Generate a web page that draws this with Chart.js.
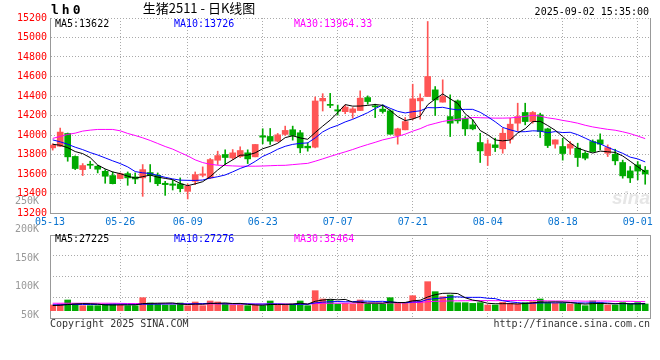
<!DOCTYPE html>
<html>
<head>
<meta charset="utf-8">
<script src="https://cdn.jsdelivr.net/npm/chart.js@4.4.0/dist/chart.umd.min.js"></script>
<style>
html, body { margin: 0; padding: 0; background: #fff; }
#wrap { position: relative; width: 660px; height: 360px; }
#wrap canvas { position: absolute; left: 0; top: 0; }
</style>
</head>
<body>
<div id="wrap">
  <canvas id="kline" width="660" height="360"></canvas>
  <canvas id="vol" width="660" height="360"></canvas>
</div>
<script>
var dates = ['05-13','05-14','05-15','05-16','05-19','05-20','05-21','05-22','05-23','05-26','05-27','05-28','05-29','05-30',
  '06-03','06-04','06-05','06-06','06-09','06-10','06-11','06-12','06-13','06-16','06-17','06-18','06-19','06-20','06-23','06-24','06-25','06-26','06-27','06-30',
  '07-01','07-02','07-03','07-04','07-07','07-08','07-09','07-10','07-11','07-14','07-15','07-16','07-17','07-18','07-21','07-22','07-23','07-24','07-25','07-28','07-29','07-30','07-31',
  '08-01','08-04','08-05','08-06','08-07','08-08','08-11','08-12','08-13','08-14','08-15','08-18','08-19','08-20','08-21','08-22','08-25','08-26','08-27','08-28','08-29',
  '09-01','09-02'];
var tickDates = ['05-13','05-26','06-09','06-23','07-07','07-21','08-04','08-18','09-01'];

var opens = [13868,13885,14016,13780,13645,13697,13680,13628,13584,13553,13604,13570,13560,13615,13587,13505,13498,13498,13422,13525,
  13587,13560,13741,13800,13765,13779,13817,13776,13992,13985,13937,14006,14054,14023,13885,13875,14349,14314,14259,14239,
  14231,14251,14384,14299,14265,14248,13995,14053,14172,14350,14395,14463,14337,14189,14350,14172,14104,13923,13789,13899,
  13858,13957,14121,14231,14138,14207,14063,13906,13882,13865,13865,13813,13933,13950,13813,13803,13718,13632,13694,13639];
var highs = [13910,14071,14020,13786,13707,13731,13690,13645,13621,13611,13621,13611,13697,13697,13611,13525,13536,13560,13498,13621,
  13673,13759,13834,13848,13851,13879,13848,13903,14064,14067,14016,14091,14091,14047,13920,14390,14424,14427,14307,14307,
  14282,14453,14401,14316,14309,14258,14070,14179,14521,14422,15164,14497,14566,14412,14360,14189,14155,14018,13950,13967,
  14070,14172,14326,14326,14241,14224,14070,13950,13967,13933,13916,13830,13950,14012,13899,13854,13742,13677,13728,13677];
var lows = [13845,13880,13731,13645,13584,13656,13611,13505,13498,13549,13484,13501,13371,13518,13481,13381,13436,13416,13344,13491,
  13570,13553,13697,13697,13748,13769,13707,13776,13910,13903,13930,13995,13947,13817,13834,13868,14246,14280,14204,14218,
  14172,14251,14316,14179,14224,14008,13906,14053,14155,14162,14395,14200,14337,13984,14121,13995,14053,13718,13687,13830,
  13813,13916,14042,14104,14121,13974,13871,13865,13742,13803,13677,13745,13824,13848,13779,13694,13557,13512,13540,13495];
var closes = [13896,14030,13776,13656,13687,13690,13649,13577,13501,13604,13560,13549,13645,13587,13501,13491,13484,13450,13474,13594,
  13601,13748,13789,13769,13817,13841,13755,13903,13978,13937,14002,14047,13995,13868,13868,14349,14376,14304,14246,14287,
  14268,14378,14343,14289,14241,14008,14063,14138,14371,14378,14600,14360,14395,14121,14145,14063,14063,13837,13909,13871,
  14018,14111,14189,14138,14231,14036,13892,13950,13810,13906,13769,13762,13830,13906,13871,13735,13581,13560,13630,13600];

var ma5 = [13905,13895,13870,13830,13809,13768,13692,13652,13621,13604,13578,13558,13572,13589,13568,13555,13542,13503,13480,13499,
  13521,13573,13641,13700,13745,13793,13794,13817,13859,13883,13915,13973,13992,13970,13956,14025,14091,14153,14229,14312,
  14296,14297,14304,14313,14304,14252,14189,14148,14164,14192,14310,14369,14421,14371,14324,14217,14157,14046,14003,13949,
  13940,13949,14020,14065,14137,14141,14097,14049,13984,13919,13865,13839,13815,13835,13828,13821,13785,13731,13675,13621];
var ma10 = [13950,13930,13905,13875,13850,13820,13795,13765,13735,13707,13673,13625,13612,13605,13586,13566,13550,13537,13535,13534,
  13538,13558,13572,13590,13622,13657,13684,13729,13780,13814,13854,13884,13904,13914,13919,13970,14032,14072,14099,14134,
  14161,14194,14229,14271,14308,14274,14243,14226,14239,14248,14281,14279,14284,14268,14258,14263,14263,14233,14187,14136,
  14078,14053,14033,14034,14043,14040,14023,14035,14025,14028,14003,13968,13932,13909,13873,13843,13812,13773,13755,13724];
var ma30 = [13965,13985,14006,14019,14040,14050,14057,14057,14057,14043,14016,13995,13971,13944,13913,13882,13855,13820,13786,13745,
  13717,13700,13690,13687,13683,13680,13680,13680,13682,13685,13688,13689,13696,13703,13709,13731,13755,13780,13804,13827,
  13851,13878,13902,13925,13950,13967,13986,14009,14039,14065,14099,14119,14139,14151,14162,14169,14180,14177,14175,14173,
  14173,14175,14182,14191,14203,14193,14176,14165,14150,14137,14121,14100,14083,14070,14058,14049,14033,14014,13989,13963];

var volumes = [22200,26100,41700,28500,19500,19500,19500,26100,26100,22200,19500,19500,50700,30000,26100,22200,22200,30000,19500,33900,
  19500,37800,33900,26100,22200,22200,19500,22200,19500,37800,22200,22200,26100,37800,19500,78000,45600,41700,26100,28500,
  26100,41700,26100,26100,26100,50700,28500,28500,58500,37800,113100,74100,54600,61200,31200,31200,28500,31200,22200,22200,
  32400,28500,26100,31200,35100,45600,31200,28500,28500,26100,26100,19500,37800,31200,22200,22200,31200,26100,31200,26100];
var volMa5 = [20000,21000,24000,26000,27600,27100,25700,22600,22100,22700,22700,22700,27600,28400,29200,29700,30200,26100,24000,25600,
  25000,28100,28900,30200,27900,28400,24800,22400,21100,24200,24200,24800,25600,29200,25600,36700,41400,44500,42200,44000,
  33600,32800,29700,29700,29200,34100,31500,32000,38500,40800,53300,62400,67600,68200,66800,50500,41300,36700,28900,27100,
  27300,27300,26300,28100,30700,33300,33800,34300,33800,32000,28100,25700,27600,28100,27400,26600,28900,26600,26600,27400];
var volMa10 = [23000,23000,24000,24000,24000,24000,24000,24000,25000,25100,24900,24200,25100,25300,25900,26200,26500,26900,26200,27400,
  27400,29200,27500,27100,26700,26700,26500,25700,25700,26100,26300,24800,24000,25200,24900,30500,33100,35000,35700,34800,
  35200,37100,37100,35900,36600,33900,32200,30800,34100,35000,43700,47000,49800,53300,53800,51900,51900,52100,48500,47000,
  38900,34300,31500,28500,28900,30300,30600,30300,30900,31300,30700,29800,31000,31000,29700,27300,27300,27100,27400,27400];
var volMa30 = [29000,29000,29000,29000,29000,29000,29000,29000,29000,28500,28000,28000,27500,27500,27000,27000,27000,27000,26500,26500,
  26500,26500,26500,26500,26000,26000,26000,26000,26000,26200,26200,26100,25500,25900,25900,27800,28700,29200,29200,29400,
  29600,30400,29500,29400,29400,30400,30600,30500,31800,32000,35100,36300,37000,38100,38400,38700,39000,39300,39400,38900,
  39300,39500,39500,39200,39800,38700,38200,37800,37800,37800,37800,37000,37400,37600,37500,36500,36600,36500,35600,35200];
var volTicks = [250000, 200000, 150000, 100000, 50000];

var FONT = '"DejaVu Sans Mono", monospace';
var UP = '#ff5555', DOWN = '#00aa00', GRID = '#aaaaaa', FRAME = '#999999';
var xMin = -0.36, xMax = 79.64;

var candleColor = closes.map(function (c, i) { return c >= opens[i] ? UP : DOWN; });
function pts(arr) { return arr.map(function (v, i) { return { x: i, y: v }; }); }
function dateTicks(scale) {
  scale.ticks = tickDates.map(function (d) {
    return { value: d === dates[0] ? xMin : dates.indexOf(d) };
  });
}
function fixWidth(w) { return function (s) { s.width = w; }; }
function fixHeight(h) { return function (s) { s.height = h; }; }
function maLine(label, data, color, axis) {
  return { type: 'line', label: label, data: pts(data), borderColor: color, borderWidth: 1,
    pointRadius: 0, tension: 0, yAxisID: axis };
}

var klineText = {
  id: 'klineText',
  beforeDatasetsDraw: function (chart) {
    var ctx = chart.ctx;
    ctx.save();
    ctx.font = 'italic bold 19px "Liberation Sans", sans-serif';
    ctx.fillStyle = '#e6e6e6';
    ctx.textAlign = 'right';
    ctx.fillText('sina', 650, 204);
    ctx.restore();
  },
  afterDraw: function (chart) {
    var ctx = chart.ctx;
    ctx.save();
    ctx.textBaseline = 'middle';
    ctx.fillStyle = '#000';
    ctx.font = 'bold 13px ' + FONT;
    ctx.letterSpacing = '3px';
    ctx.fillText('lh0', 51, 11);
    ctx.letterSpacing = '0px';
    ctx.font = '13px "Noto Sans CJK SC"';
    ctx.textAlign = 'center';
    ctx.fillText('生猪2511 - 日K线图', 199, 8);
    ctx.font = '10px ' + FONT;
    ctx.textAlign = 'right';
    ctx.fillText('2025-09-02 15:35:00', 649, 12);
    ctx.textAlign = 'left';
    ctx.fillStyle = '#000'; ctx.fillText('MA5:13622', 55, 24);
    ctx.fillStyle = '#0000ff'; ctx.fillText('MA10:13726', 174, 24);
    ctx.fillStyle = '#ff00ff'; ctx.fillText('MA30:13964.33', 294, 24);
    ctx.fillStyle = '#333';
    ctx.fillText('Copyright 2025 SINA.COM', 50, 324);
    ctx.textAlign = 'right';
    ctx.fillText('http://finance.sina.com.cn', 650, 324);
    ctx.restore();
  }
};

var volText = {
  id: 'volText',
  afterDraw: function (chart) {
    var ctx = chart.ctx;
    ctx.save();
    ctx.textBaseline = 'middle';
    ctx.font = '10px ' + FONT;
    ctx.fillStyle = '#000'; ctx.fillText('MA5:27225', 55, 239);
    ctx.fillStyle = '#0000ff'; ctx.fillText('MA10:27276', 174, 239);
    ctx.fillStyle = '#ff00ff'; ctx.fillText('MA30:35464', 294, 239);
    ctx.restore();
  }
};

var kline = new Chart(document.getElementById('kline').getContext('2d'), {
  type: 'bar',
  data: {
    datasets: [
      maLine('MA5', ma5, '#000000', 'y'),
      maLine('MA10', ma10, '#0000ff', 'y'),
      maLine('MA30', ma30, '#ff00ff', 'y'),
      { type: 'bar', label: 'body', data: opens.map(function (o, i) { return { x: i, y: [o, closes[i]] }; }),
        backgroundColor: candleColor, barThickness: 6, grouped: false, minBarLength: 1, yAxisID: 'y' },
      { type: 'bar', label: 'wick', data: lows.map(function (l, i) { return { x: i, y: [l, highs[i]] }; }),
        backgroundColor: candleColor, barThickness: 1, grouped: false, yAxisID: 'y' }
    ]
  },
  options: {
    responsive: false,
    animation: false,
    devicePixelRatio: 1,
    layout: { padding: { left: 0, right: 10, top: 18, bottom: 127 } },
    plugins: { legend: { display: false }, tooltip: { enabled: false } },
    scales: {
      x: {
        type: 'linear', min: xMin, max: xMax, offset: false,
        afterBuildTicks: dateTicks,
        ticks: { autoSkip: false, maxRotation: 0, padding: 3, color: '#0a74d0',
          font: { family: FONT, size: 10 },
          callback: function (v, i) { return tickDates[i]; } },
        grid: { color: GRID, drawTicks: false, offset: false },
        border: { color: FRAME, dash: [1, 2] },
        afterFit: fixHeight(20)
      },
      y: {
        type: 'linear', position: 'left', min: 13200, max: 15200,
        ticks: { stepSize: 200, padding: 3, color: '#ff0000', font: { family: FONT, size: 10 },
          callback: function (v) { return String(v); } },
        grid: { color: GRID, drawTicks: false },
        border: { color: FRAME, dash: [1, 2] },
        afterFit: fixWidth(50)
      },
      yr: {
        type: 'linear', position: 'right', min: 13200, max: 15200,
        ticks: { display: false }, grid: { display: false },
        border: { color: FRAME },
        afterFit: fixWidth(0)
      }
    }
  },
  plugins: [klineText]
});

var vol = new Chart(document.getElementById('vol').getContext('2d'), {
  type: 'bar',
  data: {
    datasets: [
      maLine('MA5', volMa5, '#000000', 'yv'),
      maLine('MA10', volMa10, '#0000ff', 'yv'),
      maLine('MA30', volMa30, '#ff00ff', 'yv'),
      { type: 'bar', label: 'volume', data: pts(volumes), backgroundColor: candleColor,
        barThickness: 6, grouped: false, yAxisID: 'yv' }
    ]
  },
  options: {
    responsive: false,
    animation: false,
    devicePixelRatio: 1,
    layout: { padding: { left: 0, right: 10, top: 235, bottom: 42 } },
    plugins: { legend: { display: false }, tooltip: { enabled: false } },
    scales: {
      x: {
        type: 'linear', min: xMin, max: xMax, offset: false,
        afterBuildTicks: dateTicks,
        ticks: { display: false },
        grid: { color: GRID, drawTicks: false, offset: false },
        border: { color: FRAME, dash: [1, 2] },
        afterFit: fixHeight(0)
      },
      xt: {
        type: 'linear', position: 'top', min: xMin, max: xMax,
        ticks: { display: false }, grid: { display: false },
        border: { color: FRAME },
        afterFit: fixHeight(0)
      },
      yl: {
        type: 'linear', position: 'left', min: 45100, max: 190700,
        afterBuildTicks: function (s) { s.ticks = volTicks.map(function (v) { return { value: v }; }); },
        ticks: { autoSkip: false, padding: 3, color: '#999999', font: { family: FONT, size: 10 },
          callback: function (v) { return (v / 1000) + 'K'; } },
        grid: { display: false },
        border: { color: FRAME },
        afterFit: fixWidth(50)
      },
      yg: {
        type: 'linear', position: 'left', min: 0, max: 4,
        ticks: { display: false, stepSize: 1 },
        grid: { color: GRID, drawTicks: false },
        border: { display: false, dash: [1, 2] },
        afterFit: fixWidth(0)
      },
      yv: { type: 'linear', display: false, min: -28500, max: 295000 },
      yr: {
        type: 'linear', position: 'right', min: 0, max: 4,
        ticks: { display: false }, grid: { display: false },
        border: { color: FRAME },
        afterFit: fixWidth(0)
      }
    }
  },
  plugins: [volText]
});
</script>
</body>
</html>
